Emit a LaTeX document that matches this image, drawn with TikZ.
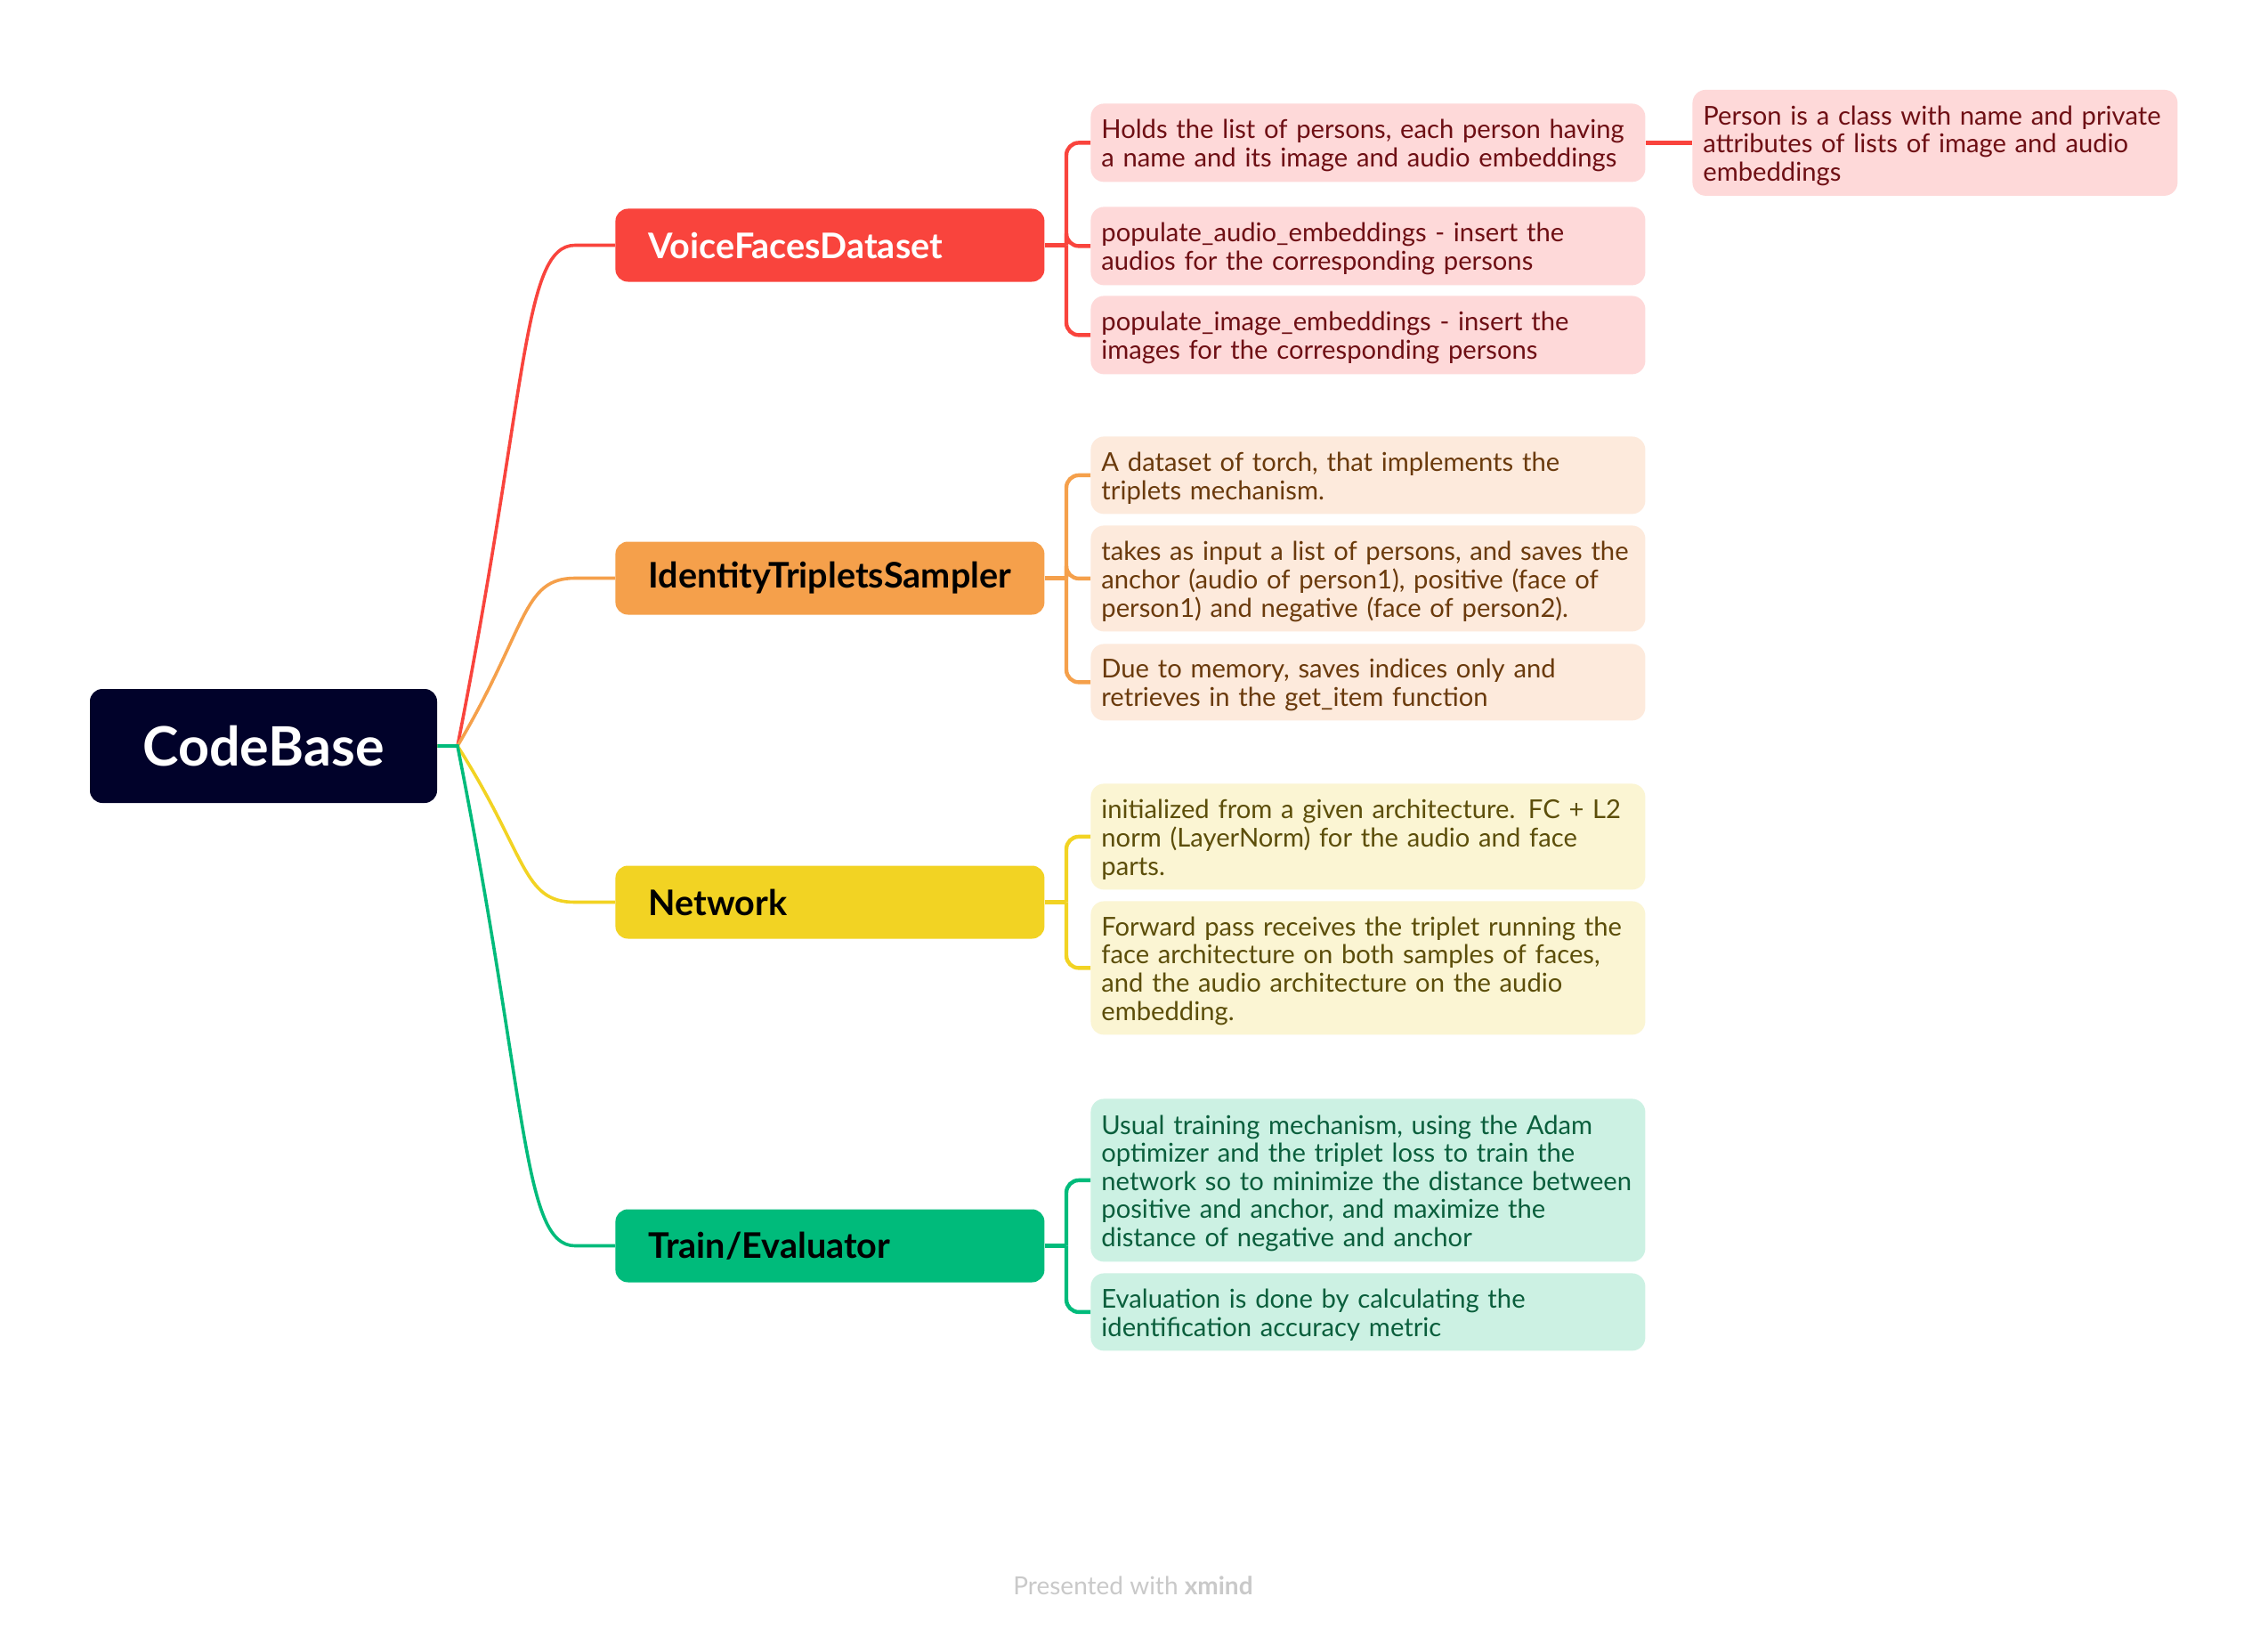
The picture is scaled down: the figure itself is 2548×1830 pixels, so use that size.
\documentclass[tikz,border=0pt]{standalone}
\usepackage{fontspec}
\setmainfont{Lato}
\definecolor{rootc}{HTML}{01022A}
\definecolor{redc}{HTML}{F9443D}
\definecolor{orangec}{HTML}{F5A04B}
\definecolor{yellowc}{HTML}{F2D323}
\definecolor{greenc}{HTML}{00BB7B}
\definecolor{redl}{HTML}{FED9D9}
\definecolor{orangel}{HTML}{FDEADC}
\definecolor{yellowl}{HTML}{FBF5D3}
\definecolor{greenl}{HTML}{CCF1E3}
\definecolor{redt}{HTML}{6E0F14}
\definecolor{oranget}{HTML}{6A3A0C}
\definecolor{yellowt}{HTML}{5C4E0A}
\definecolor{greent}{HTML}{0A5E3C}
\definecolor{footc}{HTML}{C9C9C9}
\newcommand\leaflines[1]{\raisebox{-2.5pt}[\height][\depth]{\begin{tabular}{@{}l@{}}#1\end{tabular}}}
\begin{document}
\begin{tikzpicture}[x=0.5pt,y=-0.5pt,
  rootbox/.style={fill=rootc, rounded corners=7pt, minimum width=195pt, minimum height=64pt,
    text=white, inner sep=0pt, font=\fontsize{30.5}{34}\selectfont\bfseries},
  branchbox/.style={rounded corners=7pt, anchor=west, minimum height=41pt, inner xsep=18.5pt,
    inner ysep=0pt, text width=204pt, align=left, font=\fontsize{19.8}{22}\selectfont\bfseries},
  leafbox/.style={rounded corners=7.5pt, anchor=north west, inner xsep=6pt, inner ysep=0pt,
    text width=299.5pt, align=left, font=\fontsize{14.6}{15.8}\selectfont},
  rleaf/.style={leafbox, fill=redl, text=redt},
  oleaf/.style={leafbox, fill=orangel, text=oranget},
  yleaf/.style={leafbox, fill=yellowl, text=yellowt},
  gleaf/.style={leafbox, fill=greenl, text=greent},
  curve/.style={line width=1.8pt},
  leafconn/.style={line width=2.2pt, rounded corners=7pt},
]
\useasboundingbox (0,0) rectangle (2548,1830);
\fill[white] (0,0) rectangle (2548,1830);

% root
\node[rootbox] (root) at (296,838) {CodeBase};

% branches
\node[branchbox, fill=redc, text=white] (vf) at (691,275.5) {VoiceFacesDataset};
\node[branchbox, fill=orangec, text=black] (its) at (691,649.5) {IdentityTripletsSampler};
\node[branchbox, fill=yellowc, text=black] (net) at (691,1013.5) {Network};
\node[branchbox, fill=greenc, text=black] (te) at (691,1399.5) {Train/Evaluator};

% leaves
\node[rleaf, minimum height=44pt] (h1) at (1225,116) {\leaflines{Holds the list of persons, each person having\\a name and its image and audio embeddings}};
\node[rleaf, minimum height=44pt] (pa) at (1225,232) {\leaflines{populate\_audio\_embeddings - insert the\\audios for the corresponding persons}};
\node[rleaf, minimum height=44pt] (pi) at (1225,332) {\leaflines{populate\_image\_embeddings - insert the\\images for the corresponding persons}};
\node[rleaf, minimum height=59.5pt, text width=260.5pt] (person) at (1901,100.5) {\leaflines{Person is a class with name and private\\attributes of lists of image and audio\\embeddings}};

\node[oleaf, minimum height=43.5pt] (ad) at (1225,490) {\leaflines{A dataset of torch, that implements the\\triplets mechanism.}};
\node[oleaf, minimum height=59.5pt] (tk) at (1225,590) {\leaflines{takes as input a list of persons, and saves the\\anchor (audio of person1), positive (face of\\person1) and negative (face of person2).}};
\node[oleaf, minimum height=43pt] (due) at (1225,723) {\leaflines{Due to memory, saves indices only and\\retrieves in the get\_item function}};

\node[yleaf, minimum height=59.5pt] (ini) at (1225,880) {\leaflines{initialized from a given architecture. FC + L2\\norm (LayerNorm) for the audio and face\\parts.}};
\node[yleaf, minimum height=75pt] (fwd) at (1225,1012) {\leaflines{Forward pass receives the triplet running the\\face architecture on both samples of faces,\\and the audio architecture on the audio\\embedding.}};

\node[gleaf, minimum height=91.5pt] (us) at (1225,1234) {\leaflines{Usual training mechanism, using the Adam\\optimizer and the triplet loss to train the\\network so to minimize the distance between\\positive and anchor, and maximize the\\distance of negative and anchor}};
\node[gleaf, minimum height=43.5pt] (ev) at (1225,1430) {\leaflines{Evaluation is done by calculating the\\identification accuracy metric}};

% root connectors
\coordinate (rs) at (514,838);
\draw[curve, redc] (root.east) -- (rs) .. controls (593,438.6) and (586.6,275.5) .. (646,275.5) -- (vf.west);
\draw[curve, orangec] (root.east) -- (rs) .. controls (593,704.2) and (586.6,649.5) .. (646,649.5) -- (its.west);
\draw[curve, yellowc] (root.east) -- (rs) .. controls (593,962.6) and (586.6,1013.5) .. (646,1013.5) -- (net.west);
\draw[curve, greenc] (root.east) -- (rs) .. controls (593,1236.7) and (586.6,1399.5) .. (646,1399.5) -- (te.west);

% branch -> leaf connectors
\coordinate (jr) at (1198,275.5);
\coordinate (jo) at (1198,649.5);
\coordinate (jy) at (1198,1013.5);
\coordinate (jg) at (1198,1399.5);
\draw[leafconn, redc] (vf.east) -- (jr);
\draw[leafconn, redc] (jr) |- (h1.west);
\draw[leafconn, redc] (jr) |- (pa.west);
\draw[leafconn, redc] (jr) |- (pi.west);
\draw[leafconn, redc] (h1.east) -- (person.west);

\draw[leafconn, orangec] (its.east) -- (jo);
\draw[leafconn, orangec] (jo) |- (ad.west);
\draw[leafconn, orangec] (jo) |- (tk.west);
\draw[leafconn, orangec] (jo) |- (due.west);

\draw[leafconn, yellowc] (net.east) -- (jy);
\draw[leafconn, yellowc] (jy) |- (ini.west);
\draw[leafconn, yellowc] (jy) |- (fwd.west);

\draw[leafconn, greenc] (te.east) -- (jg);
\draw[leafconn, greenc] (jg) |- (us.west);
\draw[leafconn, greenc] (jg) |- (ev.west);

% footer
\node[text=footc, font=\fontsize{14}{16}\selectfont] (foot) at (1273,1781) {Presented with \textbf{xmind}};
\end{tikzpicture}
\end{document}
